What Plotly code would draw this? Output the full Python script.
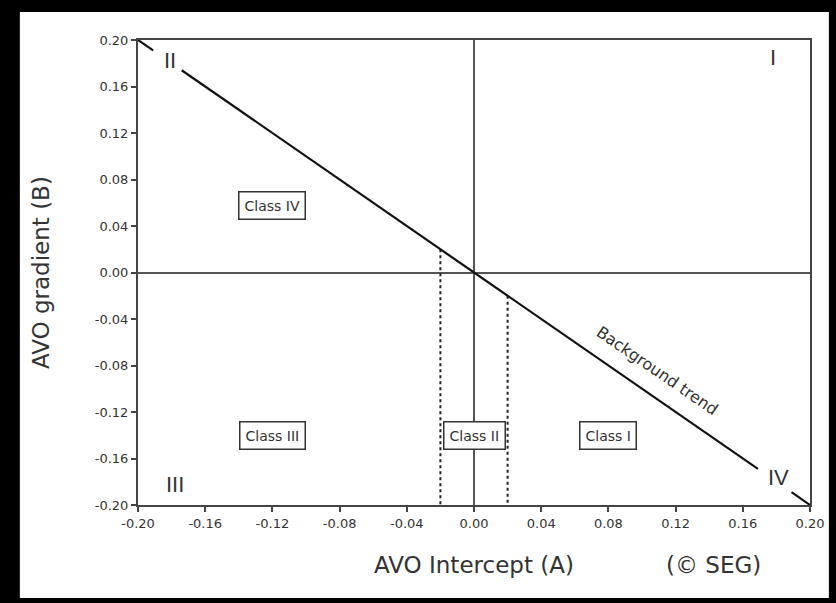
import plotly.graph_objects as go

# AVO intercept / gradient crossplot with the background trend and class zones
tick_values = [-0.20, -0.16, -0.12, -0.08, -0.04, 0.00, 0.04, 0.08, 0.12, 0.16, 0.20]
tick_labels = ["-0.20", "-0.16", "-0.12", "-0.08", "-0.04", "0.00",
               "0.04", "0.08", "0.12", "0.16", "0.20"]

# background trend B = -A, broken where the quadrant numerals sit
trend_a = [-0.20, -0.191, None, -0.174, 0.169, None, 0.189, 0.20]
trend_b = [None if a is None else -a for a in trend_a]

# Class II limits on the intercept axis
class_ii_a = [-0.02, 0.02]
floor_b = -0.20

class_names = ["Class IV", "Class III", "Class II", "Class I"]
class_a = [-0.12, -0.12, 0.00, 0.08]
class_b = [0.058, -0.14, -0.14, -0.14]

quadrant_names = ["I", "II", "III", "IV"]
quadrant_a = [0.178, -0.181, -0.178, 0.181]
quadrant_b = [0.185, 0.182, -0.182, -0.176]

INK = "#222222"
TXT = "#333333"
SANS = "DejaVu Sans, Liberation Sans, Arial"
ROMAN = "Liberation Sans, Arial"

fig = go.Figure()

for a in class_ii_a:
    fig.add_trace(go.Scatter(
        x=[a, a], y=[-a, floor_b], mode="lines",
        line=dict(color=INK, width=2, dash="dot"),
        hoverinfo="skip", showlegend=False))

fig.add_trace(go.Scatter(
    x=trend_a, y=trend_b, mode="lines",
    line=dict(color="#111111", width=2.2),
    connectgaps=False, hoverinfo="skip", showlegend=False))

annotations = []
for name, a, b in zip(class_names, class_a, class_b):
    annotations.append(dict(
        x=a, y=b, xref="x", yref="y", text=name, showarrow=False,
        xanchor="center", yanchor="middle",
        font=dict(family=SANS, size=14, color=TXT),
        bgcolor="white", bordercolor="#333333", borderwidth=1.5, borderpad=5))

for name, a, b in zip(quadrant_names, quadrant_a, quadrant_b):
    annotations.append(dict(
        x=a, y=b, xref="x", yref="y", text=name, showarrow=False,
        xanchor="center", yanchor="middle",
        font=dict(family=ROMAN, size=22, color=TXT)))

annotations.append(dict(
    x=0.109, y=-0.084, xref="x", yref="y", text="Background trend",
    showarrow=False, textangle=34.5, xanchor="center", yanchor="middle",
    font=dict(family=SANS, size=16, color=TXT)))

annotations += [
    dict(x=-0.145, y=0.5, xref="paper", yref="paper", text="AVO gradient (B)",
         textangle=-90, showarrow=False, xanchor="center", yanchor="middle",
         font=dict(family=SANS, size=23, color=TXT)),
    dict(x=0.5, y=-0.129, xref="paper", yref="paper", text="AVO Intercept (A)",
         showarrow=False, xanchor="center", yanchor="middle",
         font=dict(family=SANS, size=23, color=TXT)),
    dict(x=0.857, y=-0.129, xref="paper", yref="paper", text="(© SEG)",
         showarrow=False, xanchor="center", yanchor="middle",
         font=dict(family=SANS, size=23, color=TXT)),
]

axis_common = dict(
    range=[-0.2, 0.2], tickvals=tick_values, ticktext=tick_labels,
    showgrid=False, zeroline=True, zerolinecolor="#555555", zerolinewidth=1.5,
    showline=True, mirror=True, linecolor="#444444", linewidth=2,
    ticks="outside", ticklen=5, tickwidth=1.5, tickcolor="#444444",
    tickfont=dict(family=SANS, size=13, color=TXT), fixedrange=True)

fig.update_layout(
    width=836, height=603,
    margin=dict(l=138, r=21, t=40, b=98),
    paper_bgcolor="black", plot_bgcolor="white",
    xaxis=dict(**axis_common),
    yaxis=dict(**axis_common),
    annotations=annotations,
    shapes=[dict(type="rect", xref="paper", yref="paper",
                 x0=-0.1758, x1=1.0281, y0=-0.200, y1=1.0602,
                 fillcolor="white", line=dict(width=0), layer="below")],
)

fig.write_html("out.html")
